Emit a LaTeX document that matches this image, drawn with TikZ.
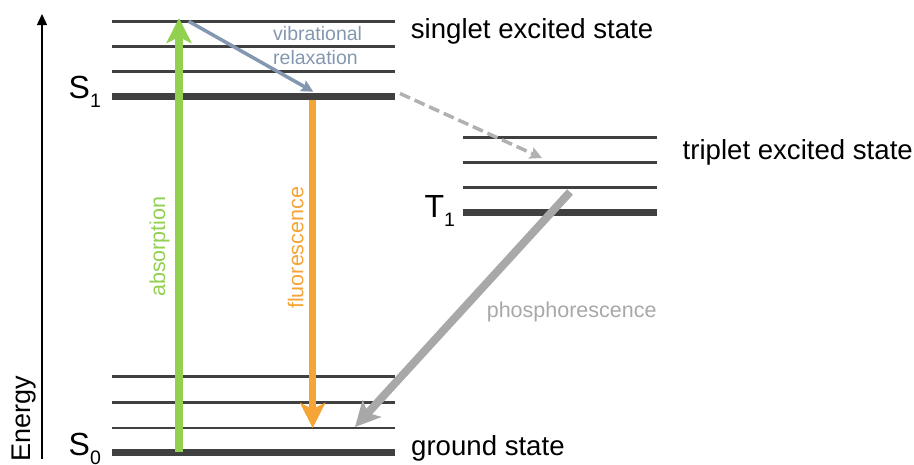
\documentclass[tikz,border=0pt]{standalone}
\usepackage{fontspec}
\setmainfont{Liberation Sans}
\usetikzlibrary{arrows.meta}

\definecolor{levelgray}{HTML}{404040}
\definecolor{absgreen}{HTML}{92D050}
\definecolor{fluorange}{HTML}{F5A535}
\definecolor{vibblue}{HTML}{8497B0}
\definecolor{phosgray}{HTML}{A8A8A8}

% lowered index for state symbols
\newcommand\lvsub[1]{\raisebox{-9pt}{\fontsize{19.5}{20}\selectfont #1}}

\begin{document}
\begin{tikzpicture}[x=1pt,y=-1pt,
  vlevel/.style={levelgray, line width=2.8pt},
  blevel/.style={levelgray, line width=7.3pt},
  statelabel/.style={inner sep=0pt, anchor=base west, font=\fontsize{27.6}{30}\selectfont},
  termlabel/.style={inner sep=0pt, anchor=base west, font=\fontsize{32}{34}\selectfont},
  proclabel/.style={inner sep=0pt, anchor=base west, font=\fontsize{21.5}{24}\selectfont},
  biglead/.style={line width=8pt, -{Stealth[length=25pt,width=25pt,inset=6pt]}},
  thinlead/.style={line width=3.5pt, -{Stealth[length=12pt,width=12pt,inset=2pt]}},
]
\useasboundingbox (0,0) rectangle (914,464);

% energy axis
\coordinate (axbot) at (42,459);
\coordinate (axtop) at (42,14);
\draw[line width=1.3pt, -{Triangle[length=11pt,width=10pt]}] (axbot) -- (axtop);
\node[inner sep=0pt, anchor=base west, rotate=90, font=\fontsize{27}{30}\selectfont]
  (energy) at (30.7,462) {Energy};

% singlet manifold
\foreach \yy in {21.3,46.3,71.3} \draw[vlevel] (112,\yy) -- (395,\yy);
\draw[blevel] (112,96.3) -- (395,96.3);
% triplet manifold
\foreach \yy in {137.3,162.3,187.7} \draw[vlevel] (463,\yy) -- (657,\yy);
\draw[blevel] (463,212.7) -- (657,212.7);
% ground manifold
\foreach \yy in {376.7,402.7,428} \draw[vlevel] (112,\yy) -- (395,\yy);
\draw[blevel] (112,452.7) -- (395,452.7);

% state symbols and names
\node[termlabel] (S1) at (68.5,98) {S\lvsub{1}};
\node[termlabel] (T1) at (424.3,217) {T\lvsub{1}};
\node[termlabel] (S0) at (68.5,455) {S\lvsub{0}};
\node[statelabel] (singlet) at (410.7,38) {singlet excited state};
\node[statelabel] (triplet) at (682.5,159) {triplet excited state};
\node[statelabel] (groundst) at (411,455) {ground state};

% transition end points
\coordinate (absfrom) at (179,452);
\coordinate (absto) at (179,18);
\coordinate (vibfrom) at (188.7,21.3);
\coordinate (vibto) at (313.3,91.7);
\coordinate (flufrom) at (312.7,99.5);
\coordinate (fluto) at (312.7,428);
\coordinate (iscfrom) at (400,93.5);
\coordinate (iscto) at (542,158);
\coordinate (phosfrom) at (570,192);
\coordinate (phosto) at (355,427);

% transitions
\draw[biglead, absgreen] (absfrom) -- (absto);
\draw[thinlead, vibblue] (vibfrom) -- (vibto);
\draw[biglead, fluorange, line width=7.5pt] (flufrom) -- (fluto);
\draw[thinlead, phosgray!90!white, dash pattern=on 11pt off 5pt] (iscfrom) -- (iscto);
\draw[biglead, phosgray] (phosfrom) -- (phosto);

% transition names
\node[proclabel, rotate=90, text=absgreen] (abslbl) at (165,297) {absorption};
\node[proclabel, rotate=90, text=fluorange] (flulbl) at (303.3,309) {fluorescence};
\node[proclabel, text=phosgray] (phoslbl) at (486.6,317.3) {phosphorescence};
\node[inner sep=0pt, anchor=base west, align=left, text=vibblue,
      font=\fontsize{19.5}{23.3}\selectfont] (viblbl) at (273,64)
  {vibrational\\relaxation};
\end{tikzpicture}
\end{document}
